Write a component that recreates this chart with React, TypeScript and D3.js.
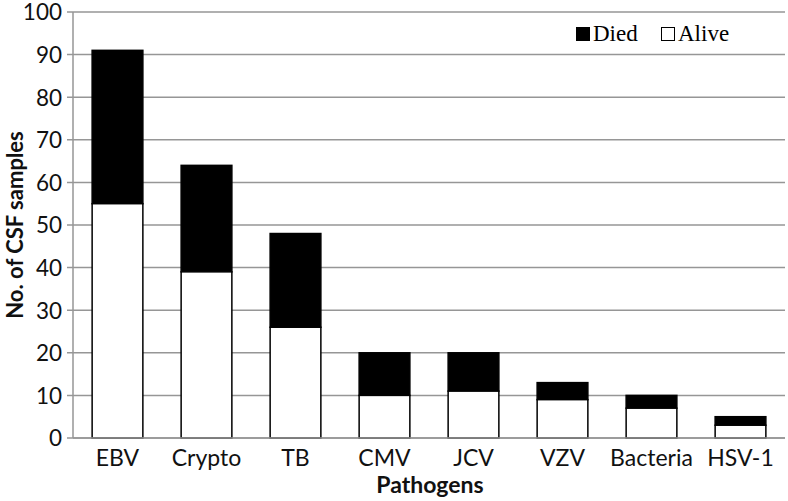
import React from "react";
import * as d3 from "d3";

const categories = ["EBV", "Crypto", "TB", "CMV", "JCV", "VZV", "Bacteria", "HSV-1"];
const alive = [55, 39, 26, 10, 11, 9, 7, 3];
const died = [36, 25, 22, 10, 9, 4, 3, 2];
const yTicks = [0, 10, 20, 30, 40, 50, 60, 70, 80, 90, 100];

const W = 788, H = 501;
const m = { left: 73, right: 3, top: 12, bottom: 63 };

export default function App() {
  const x = d3.scaleBand().domain(categories).range([m.left, W - m.right]).paddingInner(0.43).paddingOuter(0.215);
  const y = d3.scaleLinear().domain([0, 100]).range([H - m.bottom, m.top]);
  const grid = "#969696";
  const sans = "Lato, 'Open Sans', sans-serif";
  return (
    <svg width={W} height={H} style={{ position: "absolute", left: 0, top: 0, background: "#fff" }}>
      {yTicks.map((t) => (
        <g key={t}>
          <line x1={m.left - 6} x2={W - m.right} y1={y(t)} y2={y(t)} stroke={grid} strokeWidth={1.5} />
          <text x={62} y={y(t)} dy="0.37em" textAnchor="end" fontFamily={sans} fontSize={22.5} fill="#111">{t}</text>
        </g>
      ))}
      <line x1={m.left} x2={m.left} y1={m.top} y2={y(0)} stroke={grid} strokeWidth={1.5} />
      {categories.map((c, i) => {
        const bx = x(c)!;
        const bw = x.bandwidth();
        return (
          <g key={c}>
            <rect x={bx} y={y(alive[i] + died[i])} width={bw} height={y(alive[i]) - y(alive[i] + died[i])} fill="#000" stroke="#000" strokeWidth={1.5} />
            <rect x={bx} y={y(alive[i])} width={bw} height={y(0) - y(alive[i])} fill="#fff" stroke="#000" strokeWidth={1.5} />
            <text x={bx + bw / 2} y={466} textAnchor="middle" fontFamily={sans} fontSize={23} fill="#111">{c}</text>
          </g>
        );
      })}
      <line x1={m.left} x2={W - m.right} y1={y(0)} y2={y(0)} stroke={grid} strokeWidth={1.5} />
      <text x={430} y={493} textAnchor="middle" fontFamily={sans} fontSize={23} fontWeight="bold" fill="#111">Pathogens</text>
      <text transform={`translate(15,${(m.top + y(0)) / 2}) rotate(-90)`} textAnchor="middle" dy="0.35em" fontFamily={sans} fontSize={22} fontWeight="bold" fill="#111">No. of CSF samples</text>
      <g fontFamily="'Liberation Serif', 'DejaVu Serif', serif" fontSize={23} fill="#000">
        <rect x={576} y={27} width={14} height={14} fill="#000" />
        <text x={593} y={41}>Died</text>
        <rect x={661.5} y={27.5} width={13} height={13} fill="#fff" stroke="#000" strokeWidth={1} />
        <text x={678} y={41}>Alive</text>
      </g>
    </svg>
  );
}
